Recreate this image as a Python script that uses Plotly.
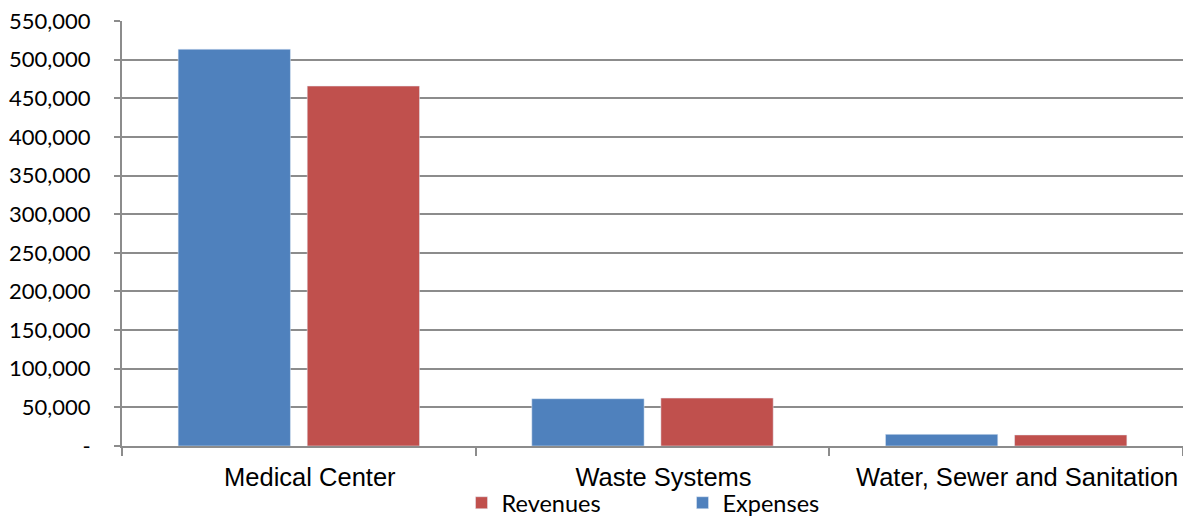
import plotly.graph_objects as go

categories = ["Medical Center", "Waste Systems", "Water, Sewer and Sanitation"]
expenses = [513500, 61200, 15100]
revenues = [465800, 62000, 14300]
y_tick_vals = [0, 50000, 100000, 150000, 200000, 250000, 300000, 350000, 400000, 450000, 500000, 550000]
y_tick_text = ["-", "50,000", "100,000", "150,000", "200,000", "250,000", "300,000",
               "350,000", "400,000", "450,000", "500,000", "550,000"]

fig = go.Figure()
fig.add_trace(go.Bar(x=categories, y=expenses, name="Expenses", marker_color="#4F81BD"))
fig.add_trace(go.Bar(x=categories, y=revenues, name="Revenues", marker_color="#C0504D"))

fig.update_layout(
    width=1183, height=517,
    margin=dict(l=122, r=0, t=21, b=71, autoexpand=False),
    plot_bgcolor="white", paper_bgcolor="white",
    barmode="group", bargap=0.27, bargroupgap=0.13,
    showlegend=True,
    legend=dict(orientation="h", traceorder="reversed", x=0.320, xanchor="left",
                y=-0.134, yanchor="middle", font=dict(family="Lato", size=23.5, color="#000000"),
                bgcolor="rgba(0,0,0,0)", borderwidth=0,
                entrywidth=176, entrywidthmode="pixels", tracegroupgap=0),
    font=dict(family="Lato", color="#000000"),
)
fig.update_yaxes(range=[0, 550000], tickvals=y_tick_vals, ticktext=y_tick_text,
                 automargin=False,
                 showgrid=True, gridcolor="#8C8C8C", gridwidth=2,
                 showline=True, linecolor="#8C8C8C", linewidth=2,
                 ticks="outside", ticklen=6, tickcolor="#8C8C8C", tickwidth=2,
                 ticklabelstandoff=19,
                 tickfont=dict(family="Lato", size=22, color="#000000"), zeroline=False)
fig.update_xaxes(automargin=False, showline=True, linecolor="#8C8C8C", linewidth=2,
                 ticks="outside", tickson="boundaries", ticklen=8, tickcolor="#8C8C8C", tickwidth=2,
                 ticklabelstandoff=7, ticklabelshift=11,
                 tickfont=dict(family="Liberation Sans", size=25.5, color="#000000"))

fig.write_html("out.html", config={"displayModeBar": False},
               post_script="document.body.style.margin='0';document.body.style.overflow='hidden';")
